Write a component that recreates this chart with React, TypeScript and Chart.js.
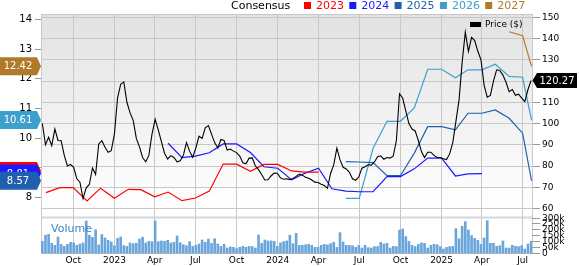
import React, { useEffect, useRef } from 'react';
import { Chart, registerables } from 'chart.js';
Chart.register(...registerables);

const FONT = 'DejaVu Sans';
const day = (y: number, m: number, d: number) => Date.UTC(y, m - 1, d) / 86400000;

// x-axis window and quarter ticks
const X_START: [number, number, number] = [2022, 7, 21];
const X_END: [number, number, number] = [2025, 7, 22];
const QUARTER_TICKS: [number, number][] = [
  [2022, 10], [2023, 1], [2023, 4], [2023, 7], [2023, 10], [2024, 1],
  [2024, 4], [2024, 7], [2024, 10], [2025, 1], [2025, 4], [2025, 7],
];
const QUARTER_LABELS = ['Oct', '2023', 'Apr', 'Jul', 'Oct', '2024', 'Apr', 'Jul', 'Oct', '2025', 'Apr', 'Jul'];
const EPS_TICKS = [8, 9, 10, 11, 12, 13, 14];
const PRICE_TICKS = [60, 70, 80, 90, 100, 110, 120, 130, 140, 150];
const VOL_TICKS = [0, 50000, 100000, 150000, 200000, 250000, 300000];

// weekly price ($) and volume (thousands), first week starting 2022-07-24
const WEEK_START: [number, number, number] = [2022, 7, 24];
const PRICES = [
  100, 90, 93.5, 89.6, 97.4, 92, 91.9, 85, 80, 80.7,
  79.4, 74, 72.4, 64.6, 69.7, 71.3, 79.1, 76, 90.4, 91.9,
  88.8, 86.5, 87.2, 95, 112, 118.5, 119.6, 110, 105, 101.5,
  93, 89, 84, 82, 85, 95, 102, 97, 91.5, 86,
  83.3, 84.9, 84, 82, 82.5, 85, 91, 87, 84.1, 88.5,
  94, 93, 98, 99, 95, 91, 88.5, 92.5, 92, 87.5,
  88, 87, 86.3, 84.7, 81.5, 81, 83.7, 83.8, 80, 78.3,
  76, 73.4, 73.5, 75.3, 76.7, 76.6, 74.4, 73.8, 74, 73.6,
  74.1, 75.1, 76.2, 75.7, 74.7, 74.2, 73.4, 72.4, 72.2, 71.4,
  70.8, 69.5, 76.5, 80.5, 88.4, 83, 79.4, 78.6, 77, 74,
  73.3, 74.8, 79, 79.7, 80.6, 80.4, 81.9, 84.4, 84.8, 83.2,
  84, 83.7, 84.7, 92, 114, 112, 106, 100, 97.4, 96.5,
  92, 86.8, 84, 86.5, 86.5, 85, 84, 84, 83.4, 83,
  85.7, 91, 101, 111, 129, 143, 134, 140.5, 139, 134,
  130, 118, 112.4, 113.2, 120.1, 125.3, 125, 122.8, 119.4, 115,
  116, 113.3, 113.8, 112, 110.3, 116, 120.27,
];
const VOLUMES_K = [
  99, 150, 158, 82, 65, 135, 73, 56, 73, 90,
  85, 65, 76, 85, 270, 150, 133, 197, 68, 156,
  127, 107, 93, 62, 124, 135, 62, 56, 85, 79,
  82, 118, 133, 85, 99, 96, 270, 96, 102, 99,
  107, 85, 90, 144, 87, 70, 62, 96, 56, 65,
  76, 110, 90, 118, 82, 121, 76, 56, 73, 42,
  51, 48, 37, 48, 56, 48, 56, 54, 42, 152,
  82, 110, 102, 102, 99, 56, 85, 96, 102, 150,
  79, 166, 65, 65, 70, 73, 65, 48, 48, 65,
  73, 68, 79, 90, 48, 172, 93, 65, 65, 62,
  48, 65, 42, 65, 45, 42, 54, 54, 90, 76,
  82, 42, 56, 54, 194, 203, 138, 99, 65, 54,
  73, 85, 82, 42, 65, 73, 70, 54, 34, 48,
  54, 56, 206, 121, 226, 265, 194, 147, 124, 107,
  73, 127, 273, 82, 82, 56, 62, 102, 42, 42,
  65, 56, 54, 62, 34, 76, 99,
];

// monthly consensus EPS estimates (first of month), plus current value
const NOW: [number, number, number] = [2025, 7, 21];
const EPS_2023_START: [number, number] = [2022, 8];
const EPS_2023 = [8.17, 8.34, 8.34, 7.89, 8.32, 7.98, 8.28, 8.27, 8.03, 8.19, 7.9, 7.99, 8.22, 9.13, 9.13, 8.89, 9.12, 9.12, 8.9, 8.86, 8.86];
const EPS_2024_START: [number, number] = [2023, 5];
const EPS_2024 = [9.83, 9.35, 9.4, 9.51, 9.81, 9.81, 9.52, 9.04, 8.99, 8.6, 8.82, 8.99, 8.3, 8.22, 8.2, 8.2, 8.71, 8.71, 8.97, 9.33, 9.33, 8.73, 8.8, 8.81];
const EPS_2025_START: [number, number] = [2024, 6];
const EPS_2025 = [9.21, 9.2, 9.18, 8.74, 8.74, 9.5, 10.39, 10.39, 10.28, 10.84, 10.84, 10.95, 10.67, 10.17];
const EPS_2025_NOW = 8.57;
const EPS_2026_START: [number, number] = [2024, 6];
const EPS_2026 = [7.98, 7.98, 9.66, 10.57, 10.57, 11.02, 12.32, 12.32, 12.03, 12.3, 12.3, 12.49, 12.08, 12.05];
const EPS_2026_NOW = 10.61;
const EPS_2027_START: [number, number] = [2025, 6];
const EPS_2027 = [13.58, 13.45];
const EPS_2027_NOW = 12.42;

const C2023 = '#ff0000';
const C2024 = '#1a1aff';
const C2025 = '#1f5fae';
const C2026 = '#3d9fcc';
const C2027 = '#b07a2a';
const CVOL = '#6aa6dc';

const monthly = (start: [number, number], vals: number[]) =>
  vals.map((v, i) => ({ x: day(start[0], start[1] + i, 1), y: v }));
const weekly = (vals: number[]) =>
  vals.map((v, i) => ({ x: day(WEEK_START[0], WEEK_START[1], WEEK_START[2] + 7 * i), y: v }));

function tagLeft(ctx: CanvasRenderingContext2D, y: number, color: string, text: string) {
  const h = 18;
  ctx.beginPath();
  ctx.moveTo(0, y - h / 2);
  ctx.lineTo(37, y - h / 2);
  ctx.lineTo(41, y);
  ctx.lineTo(37, y + h / 2);
  ctx.lineTo(0, y + h / 2);
  ctx.closePath();
  ctx.fillStyle = color;
  ctx.fill();
  ctx.fillStyle = '#ffffff';
  ctx.font = `10px "${FONT}"`;
  ctx.textAlign = 'center';
  ctx.textBaseline = 'middle';
  ctx.fillText(text, 18, y + 0.5);
}

const bgPlugin = {
  id: 'panels',
  beforeDraw(chart: any) {
    const { ctx, chartArea } = chart;
    const yP = chart.scales.yPrice;
    const yV = chart.scales.yVol;
    const top = chartArea.top;
    const pb = yP.getPixelForValue(60);
    ctx.save();
    const g = ctx.createLinearGradient(0, top, 0, pb);
    g.addColorStop(0, '#e2e2e2');
    g.addColorStop(1, '#ffffff');
    ctx.fillStyle = g;
    ctx.fillRect(chartArea.left, top, chartArea.right - chartArea.left, pb - top);
    const vt = yV.getPixelForValue(300000);
    ctx.fillStyle = '#d6d6d6';
    ctx.fillRect(chartArea.left, vt - 1, chartArea.right - chartArea.left, 2);
    ctx.restore();
  },
  afterDraw(chart: any) {
    const { ctx, chartArea } = chart;
    const yE = chart.scales.yEps;
    const yP = chart.scales.yPrice;
    const yV = chart.scales.yVol;
    ctx.save();
    // top border line
    ctx.strokeStyle = '#c8c8c8';
    ctx.lineWidth = 1;
    ctx.beginPath();
    ctx.moveTo(chartArea.left, chartArea.top + 0.5);
    ctx.lineTo(chartArea.right, chartArea.top + 0.5);
    ctx.stroke();

    // volume axis ticks and labels
    ctx.strokeStyle = '#999';
    ctx.fillStyle = '#000';
    ctx.font = `9px "${FONT}"`;
    ctx.textAlign = 'left';
    ctx.textBaseline = 'middle';
    VOL_TICKS.forEach((v) => {
      const y = Math.round(yV.getPixelForValue(v)) + 0.5;
      ctx.beginPath();
      ctx.moveTo(chartArea.right, y);
      ctx.lineTo(chartArea.right + 8, y);
      ctx.stroke();
      ctx.fillText(v === 0 ? '0' : `${v / 1000}k`, chartArea.right + 10, y);
    });

    // legend
    ctx.textBaseline = 'alphabetic';
    ctx.textAlign = 'left';
    ctx.font = `11px "${FONT}"`;
    ctx.fillStyle = '#000';
    ctx.fillText('Consensus', 231, 9);
    const items: [string, string][] = [['2023', C2023], ['2024', C2024], ['2025', C2025], ['2026', C2026], ['2027', C2027]];
    items.forEach(([t, c], i) => {
      const s = 304 + 45.3 * i;
      ctx.fillStyle = c;
      ctx.fillRect(s, 2, 7, 7);
      ctx.fillText(t, s + 12, 9);
    });

    // price legend
    ctx.fillStyle = '#000';
    ctx.fillRect(470, 22, 11, 5);
    ctx.font = `9px "${FONT}"`;
    ctx.textBaseline = 'middle';
    ctx.fillText('Price ($)', 485, 25);

    // Volume label
    ctx.fillStyle = '#3d85c6';
    ctx.font = `11px "${FONT}"`;
    ctx.fillText('Volume', 51, 229);

    // left consensus tags
    const last = (a: number[]) => a[a.length - 1];
    tagLeft(ctx, yE.getPixelForValue(last(EPS_2023)) - 1, C2023, last(EPS_2023).toFixed(2));
    tagLeft(ctx, yE.getPixelForValue(last(EPS_2024)), C2024, last(EPS_2024).toFixed(2));
    tagLeft(ctx, yE.getPixelForValue(EPS_2025_NOW), C2025, EPS_2025_NOW.toFixed(2));
    tagLeft(ctx, yE.getPixelForValue(EPS_2026_NOW), C2026, EPS_2026_NOW.toFixed(2));
    tagLeft(ctx, yE.getPixelForValue(EPS_2027_NOW), C2027, EPS_2027_NOW.toFixed(2));

    // right price tag
    const pv = PRICES[PRICES.length - 1];
    const py = yP.getPixelForValue(pv);
    const h = 15;
    ctx.beginPath();
    ctx.moveTo(532.5, py);
    ctx.lineTo(537, py - h / 2);
    ctx.lineTo(577, py - h / 2);
    ctx.lineTo(577, py + h / 2);
    ctx.lineTo(537, py + h / 2);
    ctx.closePath();
    ctx.fillStyle = '#000';
    ctx.fill();
    ctx.fillStyle = '#fff';
    ctx.font = `10px "${FONT}"`;
    ctx.textAlign = 'center';
    ctx.fillText(pv.toFixed(2), 557, py + 0.5);
    ctx.restore();
  },
};

export default function App() {
  const ref = useRef<HTMLCanvasElement | null>(null);
  useEffect(() => {
    if (!ref.current) return;
    Chart.defaults.font.family = FONT;
    const lineDs = (label: string, data: any[], color: string, order = 2, width = 1.2) => ({
      type: 'line' as const,
      label,
      data,
      borderColor: color,
      backgroundColor: color,
      borderWidth: width,
      pointRadius: 0,
      tension: 0,
      fill: false,
      yAxisID: 'yEps',
      xAxisID: 'x',
      order,
    });
    const nowX = day(NOW[0], NOW[1], NOW[2]);
    const chart = new Chart(ref.current, {
      type: 'line',
      data: {
        datasets: [
          {
            type: 'bar',
            label: 'Volume',
            data: weekly(VOLUMES_K.map((v) => v * 1000)),
            backgroundColor: CVOL,
            barThickness: 2,
            yAxisID: 'yVol',
            xAxisID: 'x',
            order: 10,
          } as any,
          lineDs('2023', monthly(EPS_2023_START, EPS_2023), C2023),
          lineDs('2024', monthly(EPS_2024_START, EPS_2024), C2024),
          lineDs('2025', [...monthly(EPS_2025_START, EPS_2025), { x: nowX, y: EPS_2025_NOW }], C2025),
          lineDs('2026', [...monthly(EPS_2026_START, EPS_2026), { x: nowX, y: EPS_2026_NOW }], C2026),
          lineDs('2027', [...monthly(EPS_2027_START, EPS_2027), { x: nowX, y: EPS_2027_NOW }], C2027),
          {
            ...lineDs('Price ($)', weekly(PRICES), '#000000', 1, 1.1),
            yAxisID: 'yPrice',
          },
        ],
      },
      options: {
        animation: false,
        responsive: false,
        maintainAspectRatio: false,
        layout: { padding: { top: 14, left: 0, right: 0, bottom: 0 } },
        plugins: { legend: { display: false }, tooltip: { enabled: false } },
        scales: {
          x: {
            type: 'linear',
            offset: false,
            min: day(...X_START),
            max: day(...X_END),
            afterBuildTicks: (s: any) => {
              s.ticks = QUARTER_TICKS.map(([y, m]) => ({ value: day(y, m, 1) }));
            },
            afterFit: (s: any) => {
              s.height = 13;
            },
            ticks: {
              autoSkip: false,
              maxRotation: 0,
              padding: 2,
              color: '#000',
              font: { family: FONT, size: 9 },
              callback: (_v: any, i: number) => QUARTER_LABELS[i],
            },
            grid: { color: '#c8c8c8', drawTicks: false, offset: false },
            border: { display: true, color: '#b0b0b0' },
          },
          yEps: {
            type: 'linear',
            position: 'left',
            min: 6.14,
            max: 14.178,
            afterBuildTicks: (s: any) => {
              s.ticks = EPS_TICKS.map((v) => ({ value: v }));
            },
            afterFit: (s: any) => {
              s.width = 41;
            },
            ticks: { autoSkip: false, padding: 3, color: '#000', font: { family: FONT, size: 10 } },
            grid: { drawOnChartArea: false, tickLength: 6, color: '#999' },
            border: { display: true, color: '#c8c8c8' },
          },
          yPrice: {
            type: 'linear',
            position: 'right',
            min: 39.05,
            max: 151.55,
            afterBuildTicks: (s: any) => {
              s.ticks = PRICE_TICKS.map((v) => ({ value: v }));
            },
            afterFit: (s: any) => {
              s.width = 47;
            },
            ticks: { autoSkip: false, padding: 2, color: '#000', font: { family: FONT, size: 9 } },
            grid: { color: '#c8c8c8', tickColor: '#999', tickLength: 8 },
            border: { display: true, color: '#c8c8c8' },
          },
          yVol: {
            type: 'linear',
            position: 'right',
            display: false,
            min: 0,
            max: 2020000,
          },
        },
      } as any,
      plugins: [bgPlugin],
    });
    return () => chart.destroy();
  }, []);
  return (
    <div style={{ position: 'absolute', left: 0, top: 0, width: 579, height: 266 }}>
      <canvas ref={ref} width={579} height={266} style={{ width: 579, height: 266 }} />
    </div>
  );
}
